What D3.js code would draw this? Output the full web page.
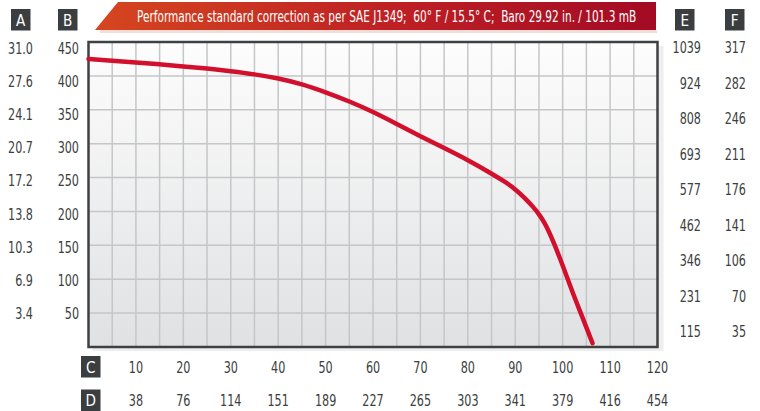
<!DOCTYPE html>
<html>
<head>
<meta charset="utf-8">
<script src="https://cdn.jsdelivr.net/npm/d3@7"></script>
<style>
body { margin: 0; background: #fff; }
text { font-family: "DejaVu Sans", sans-serif; }
</style>
</head>
<body>
<svg id="chart" width="760" height="411"></svg>
<script>
// curve (C = flow, B = pressure)
var flow     = [0, 5, 10, 15, 20, 25, 30, 35, 40, 45, 50, 55, 60, 65, 70, 75, 80, 85, 88, 90, 92, 94, 95, 96, 97, 98, 100, 102, 104, 106.3];
var pressure = [425, 422.5, 420, 417, 414, 411, 407, 402.5, 396.5, 388, 376, 362.5, 347, 329, 311, 293.5, 276, 256, 243, 233, 220, 205, 196, 185.5, 172, 156, 121, 82, 47, 5.5];

// side columns
var tickB = [450, 400, 350, 300, 250, 200, 150, 100, 50];
var tickA = ["31.0", "27.6", "24.1", "20.7", "17.2", "13.8", "10.3", "6.9", "3.4"];
var tickE = ["1039", "924", "808", "693", "577", "462", "346", "231", "115"];
var tickF = ["317", "282", "246", "211", "176", "141", "106", "70", "35"];

// bottom rows
var tickC = [10, 20, 30, 40, 50, 60, 70, 80, 90, 100, 110, 120];
var tickD = ["38", "76", "114", "151", "189", "227", "265", "303", "341", "379", "416", "454"];

var header = "Performance standard correction as per SAE J1349;  60\u00b0 F / 15.5\u00b0 C;  Baro 29.92 in. / 101.3 mB";

var svg = d3.select("#chart");
var pLeft = 88.5, pRight = 657.5, pTop = 42, pBottom = 347;
var squeeze = 0.7; // no condensed font installed, so narrow the glyphs

var x = d3.scaleLinear().domain([0, 120]).range([pLeft, pRight]);
var y = d3.scaleLinear().domain([0, 450]).range([pBottom, pTop]);

// label rows are spaced a bit differently from the grid
var yLeft = d3.scaleLinear().domain([0, 8]).range([48, 313.3]);
var yRight = d3.scaleLinear().domain([0, 8]).range([47.3, 331.7]);

var defs = svg.append("defs");
var bg = defs.append("linearGradient").attr("id", "bg").attr("x1", 0).attr("y1", 0).attr("x2", 0).attr("y2", 1);
bg.append("stop").attr("offset", "0%").attr("stop-color", "#fdfdfd");
bg.append("stop").attr("offset", "100%").attr("stop-color", "#e0e1e3");
var ban = defs.append("linearGradient").attr("id", "ban").attr("x1", 0).attr("y1", 0).attr("x2", 1).attr("y2", 0);
ban.append("stop").attr("offset", "0%").attr("stop-color", "#d5461f");
ban.append("stop").attr("offset", "55%").attr("stop-color", "#bd1f24");
ban.append("stop").attr("offset", "100%").attr("stop-color", "#a30b24");

// header banner
svg.append("rect").attr("x", 100).attr("y", 30).attr("width", 557).attr("height", 3)
   .attr("fill", "#f6dcd6");
svg.append("path")
   .attr("d", "M118,2 L656,2 L656,30 L95,30 Z")
   .attr("fill", "url(#ban)");
var head = svg.append("text")
   .attr("x", 0).attr("y", 0)
   .attr("font-size", 15)
   .attr("fill", "#fff")
   .style("white-space", "pre")
   .text(header);
var hw = head.node().getComputedTextLength();
head.attr("transform", "translate(137,21.5) scale(" + (500 / hw) + ",1)");

// plot box
svg.append("rect").attr("x", pLeft + 4).attr("y", pTop + 4).attr("width", pRight - pLeft + 2).attr("height", pBottom - pTop)
   .attr("fill", "#eeeeef");
svg.append("rect").attr("x", pLeft).attr("y", pTop).attr("width", pRight - pLeft).attr("height", pBottom - pTop)
   .attr("fill", "url(#bg)");

var g = svg.append("g");
g.selectAll(".vg")
 .data(d3.range(5, 120, 5))
 .enter().append("line")
 .attr("x1", function(d) { return x(d); }).attr("x2", function(d) { return x(d); })
 .attr("y1", pTop).attr("y2", pBottom)
 .attr("stroke", "#c5c6c8").attr("stroke-width", 1.5);
g.selectAll(".hg")
 .data(d3.range(50, 450, 50))
 .enter().append("line")
 .attr("y1", function(d) { return y(d); }).attr("y2", function(d) { return y(d); })
 .attr("x1", pLeft).attr("x2", pRight)
 .attr("stroke", "#c5c6c8").attr("stroke-width", 1.5);

svg.append("rect").attr("x", pLeft).attr("y", pTop).attr("width", pRight - pLeft).attr("height", pBottom - pTop)
   .attr("fill", "none").attr("stroke", "#3f4042").attr("stroke-width", 2.5);

// curve
var line = d3.line()
    .x(function(d) { return x(d[0]); })
    .y(function(d) { return y(d[1]); })
    .curve(d3.curveBasis);
svg.append("path")
   .datum(d3.zip(flow, pressure))
   .attr("d", line)
   .attr("fill", "none")
   .attr("stroke", "#d2102d")
   .attr("stroke-width", 4.5)
   .attr("stroke-linecap", "round")
   .attr("stroke-linejoin", "round");

// letter badges
var badges = [["A", 11, 9], ["B", 58, 9], ["E", 675, 9], ["F", 725, 9], ["C", 81, 356], ["D", 81, 389.5]];
badges.forEach(function(b) {
    svg.append("rect").attr("x", b[1]).attr("y", b[2]).attr("width", 19.5).attr("height", 21.5).attr("fill", "#3b3e40");
    svg.append("text").attr("transform", "translate(" + (b[1] + 9.75) + "," + (b[2] + 16.5) + ") scale(0.85,1)")
       .attr("text-anchor", "middle").attr("font-size", 16).attr("fill", "#fff").text(b[0]);
});

var labelColor = "#3b3e40", fs = 16;
function column(vals, xr, sc) {
    svg.append("g").selectAll("text")
       .data(vals)
       .enter().append("text")
       .attr("transform", function(d, i) { return "translate(" + xr + "," + sc(i) + ") scale(" + squeeze + ",1)"; })
       .attr("dy", "0.36em")
       .attr("text-anchor", "end")
       .attr("font-size", fs)
       .attr("fill", labelColor)
       .text(function(d) { return d; });
}
column(tickA, 33, yLeft);
column(tickB, 79, yLeft);
column(tickE, 701, yRight);
column(tickF, 746, yRight);

function row(vals, yc) {
    svg.append("g").selectAll("text")
       .data(vals)
       .enter().append("text")
       .attr("transform", function(d, i) { return "translate(" + x(tickC[i]) + "," + yc + ") scale(" + squeeze + ",1)"; })
       .attr("dy", "0.36em")
       .attr("text-anchor", "middle")
       .attr("font-size", fs)
       .attr("fill", labelColor)
       .text(function(d) { return d; });
}
row(tickC, 367);
row(tickD, 400);
</script>
</body>
</html>
